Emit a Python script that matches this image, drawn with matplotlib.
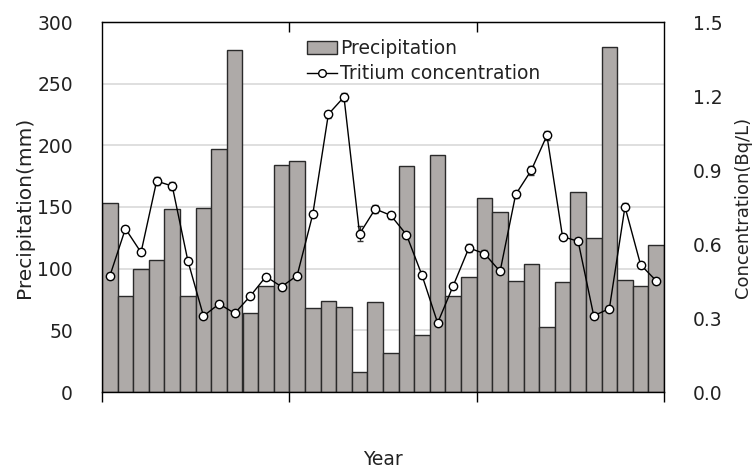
import numpy as np
import matplotlib
matplotlib.use('Agg')
import matplotlib.pyplot as plt
from matplotlib.lines import Line2D

# monthly precipitation (mm), 3 years
precip = [153, 78, 100, 107, 148, 78, 149, 197, 277, 64, 86, 184,
          187, 68, 74, 69, 16, 73, 32, 183, 46, 192, 78, 93,
          157, 146, 90, 104, 53, 89, 162, 125, 280, 91, 86, 119]

# tritium concentration (Bq/L) and error
tritium = [0.470, 0.662, 0.566, 0.855, 0.835, 0.532, 0.308, 0.357, 0.319, 0.389, 0.468, 0.427,
           0.472, 0.720, 1.126, 1.196, 0.641, 0.742, 0.716, 0.638, 0.473, 0.280, 0.431, 0.584,
           0.561, 0.489, 0.801, 0.899, 1.040, 0.630, 0.611, 0.309, 0.338, 0.751, 0.516, 0.451]
tritium_err = [0.012, 0.012, 0.012, 0.015, 0.015, 0.012, 0.010, 0.010, 0.010, 0.010, 0.012, 0.012,
               0.012, 0.012, 0.015, 0.015, 0.030, 0.015, 0.015, 0.012, 0.012, 0.010, 0.012, 0.015,
               0.015, 0.012, 0.015, 0.018, 0.020, 0.012, 0.012, 0.010, 0.010, 0.015, 0.012, 0.012]

plt.rcParams['font.family'] = 'DejaVu Sans'
fs = 13.5
txtcol = '#222222'

fig = plt.figure(figsize=(7.52, 4.68), dpi=100)
ax = fig.add_axes([102/752, 76/468, 562/752, 370/468])
x = np.arange(len(precip)) + 0.5

ax.set_axisbelow(True)
ax.yaxis.grid(True, color='#d9d9d9', linewidth=1.2)
bars = ax.bar(x, precip, width=1.0, color='#aeaaa8', edgecolor='#2a2a2a',
              linewidth=1.0, label='Precipitation', zorder=2)
ax.set_xlim(0, 36)
ax.set_ylim(0, 300)
ax.set_yticks(np.arange(0, 301, 50))
ax.set_xticks([0, 12, 24, 36])
ax.set_xticklabels([])
ax.tick_params(axis='y', length=0, pad=21, labelsize=fs, labelcolor=txtcol)
ax.tick_params(axis='x', direction='out', length=7, width=1, color='black')
ax.set_ylabel('Precipitation(mm)', fontsize=14.5, color=txtcol, labelpad=2)
ax.set_xlabel('Year', fontsize=fs, color=txtcol)
ax.xaxis.set_label_coords(0.5, -0.158)
for s in ['left', 'bottom', 'top', 'right']:
    ax.spines[s].set_color('black')
    ax.spines[s].set_linewidth(1.0)

axt = ax.secondary_xaxis('top')
axt.set_xticks([12, 24])
axt.set_xticklabels([])
axt.tick_params(direction='in', length=7, width=1)

ax2 = ax.twinx()
ax2.errorbar(x, tritium, yerr=tritium_err, color='black', linewidth=1.0,
             marker='o', markersize=6, markerfacecolor='white',
             markeredgecolor='black', markeredgewidth=1.0,
             ecolor='#333333', elinewidth=0.9, capsize=2.5, zorder=3)
ax2.set_ylim(0, 1.5)
ax2.set_yticks(np.arange(0, 1.51, 0.3))
ax2.set_yticklabels(['%.1f' % v for v in np.arange(0, 1.51, 0.3)])
ax2.tick_params(axis='y', length=0, pad=21, labelsize=fs, labelcolor=txtcol)
ax2.set_ylabel('Concentration(Bq/L)', fontsize=13, color=txtcol, labelpad=8)
for s in ['left', 'bottom', 'top', 'right']:
    ax2.spines[s].set_visible(False)

line_handle = Line2D([], [], color='black', linewidth=1.0, marker='o',
                     markersize=5.5, markerfacecolor='white', markeredgecolor='black')
leg = ax.legend([bars, line_handle], ['Precipitation', 'Tritium concentration'],
                loc='upper left', bbox_to_anchor=(0.345, 0.985), frameon=False,
                fontsize=fs, handlelength=1.6, handletextpad=0.15,
                borderaxespad=0.2, labelspacing=0.35)
for t in leg.get_texts():
    t.set_color(txtcol)

fig.savefig('out.png', dpi=100)
